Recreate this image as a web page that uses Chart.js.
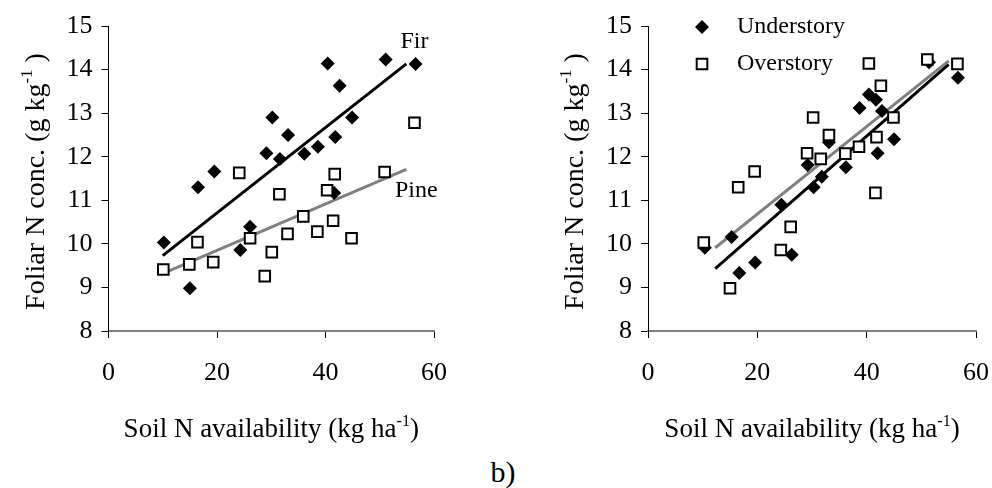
<!DOCTYPE html>
<html>
<head>
<meta charset="utf-8">
<script src="https://cdn.jsdelivr.net/npm/chart.js@4.4.0/dist/chart.umd.min.js"></script>
<style>
  html, body { margin: 0; padding: 0; background: #fff; }
  body { width: 992px; height: 488px; position: relative; overflow: hidden; }
  .panel { position: absolute; top: 0; height: 488px; }
  #left { left: 0; width: 450px; }
  #right { left: 520px; width: 472px; }
  #tag {
    position: absolute; left: 503px; top: 472px;
    transform: translate(-50%, -50%);
    font: 30px 'Liberation Serif', 'Times New Roman', serif;
    color: #000;
  }
</style>
</head>
<body>
<div class="panel" id="left"><canvas id="speciesChart"></canvas></div>
<div class="panel" id="right"><canvas id="storyChart"></canvas></div>
<div id="tag">b)</div>
<script>
// Soil N availability (kg/ha) vs foliar N (g/kg)
const xTicks = [0, 20, 40, 60];
const yTicks = [8, 9, 10, 11, 12, 13, 14, 15];

const firX = [10.2, 15.0, 16.5, 19.5, 24.3, 26.1, 29.1, 30.2, 31.6, 33.1, 36.1, 38.6, 40.4, 41.6, 41.8, 42.6, 44.9, 51.1, 56.6];
const firY = [10.03, 8.98, 11.30, 11.66, 9.86, 10.39, 12.08, 12.90, 11.95, 12.50, 12.07, 12.23, 14.14, 11.17, 12.45, 13.63, 12.90, 14.23, 14.13];

const pineX = [10.1, 14.9, 16.4, 19.3, 24.1, 26.1, 28.8, 30.1, 31.5, 33.0, 35.9, 38.5, 40.3, 41.4, 41.7, 44.8, 50.9, 56.4];
const pineY = [9.41, 9.53, 10.04, 9.58, 11.63, 10.13, 9.26, 9.81, 11.14, 10.23, 10.63, 10.28, 11.23, 10.53, 11.60, 10.13, 11.65, 12.78];

const underX = [10.4, 15.3, 16.7, 19.6, 24.4, 26.3, 29.2, 30.3, 31.8, 33.1, 36.2, 38.7, 40.4, 41.7, 42.0, 42.8, 45.0, 51.4, 56.7];
const underY = [9.91, 10.16, 9.33, 9.57, 10.90, 9.75, 11.81, 11.30, 11.54, 12.33, 11.76, 13.12, 13.43, 13.31, 12.08, 13.05, 12.40, 14.17, 13.81];

const overX = [10.2, 15.0, 16.5, 19.5, 24.3, 26.1, 29.1, 30.2, 31.6, 33.1, 36.1, 38.6, 40.4, 41.6, 41.8, 42.6, 44.9, 51.1, 56.6];
const overY = [10.03, 8.98, 11.30, 11.66, 9.86, 10.39, 12.08, 12.90, 11.95, 12.50, 12.07, 12.23, 14.14, 11.17, 12.45, 13.63, 12.90, 14.23, 14.13];

// fitted trend lines, end points
const firFitX = [10.0, 54.9];
const firFitY = [9.73, 14.13];
const pineFitX = [10.1, 54.9];
const pineFitY = [9.32, 11.71];
const underFitX = [12.3, 55.0];
const underFitY = [9.43, 14.12];
const overFitX = [12.3, 55.0];
const overFitY = [9.91, 14.20];

const SERIF = "'Liberation Serif', 'Times New Roman', serif";
const GREY = '#808080';

const pts = (xs, ys) => xs.map((x, i) => ({ x: x, y: ys[i] }));

const diamond = (label, xs, ys) => ({
  label: label,
  data: pts(xs, ys),
  pointStyle: 'rectRot',
  pointRadius: 7,
  backgroundColor: '#000',
  borderColor: '#000',
  borderWidth: 0
});

const square = (label, xs, ys) => ({
  label: label,
  data: pts(xs, ys),
  pointStyle: 'rect',
  pointRadius: 7.5,
  backgroundColor: '#fff',
  borderColor: '#000',
  borderWidth: 2
});

const fitLine = (xs, ys, color) => ({
  data: pts(xs, ys),
  showLine: true,
  pointRadius: 0,
  borderColor: color,
  borderWidth: 3,
  fill: false
});

// draws text pieces centred on the current origin, "-1" as superscript
function drawTitle(ctx, pieces, size) {
  const supSize = Math.round(size * 0.6);
  const widths = pieces.map(p => {
    ctx.font = (p.sup ? supSize : size) + 'px ' + SERIF;
    return ctx.measureText(p.t).width;
  });
  let x = -widths.reduce((a, b) => a + b, 0) / 2;
  pieces.forEach((p, i) => {
    ctx.font = (p.sup ? supSize : size) + 'px ' + SERIF;
    ctx.fillText(p.t, x, p.sup ? -size * 0.42 : 0);
    x += widths[i];
  });
}

const xTitle = [{ t: 'Soil N availability (kg ha' }, { t: '-1', sup: true }, { t: ')' }];
const yTitle = [{ t: 'Foliar N conc. (g kg' }, { t: '-1', sup: true }, { t: ' )' }];

const axisTitles = {
  id: 'axisTitles',
  afterDraw(chart) {
    const { ctx, chartArea: a } = chart;
    ctx.save();
    ctx.fillStyle = '#000';
    ctx.textAlign = 'left';
    ctx.textBaseline = 'alphabetic';
    ctx.translate((a.left + a.right) / 2, a.bottom + 106);
    drawTitle(ctx, xTitle, 27);
    ctx.restore();

    ctx.save();
    ctx.fillStyle = '#000';
    ctx.textAlign = 'left';
    ctx.textBaseline = 'alphabetic';
    ctx.translate(a.left - 65, (a.top + a.bottom) / 2 + 3);
    ctx.rotate(-Math.PI / 2);
    drawTitle(ctx, yTitle, 28);
    ctx.restore();
  }
};

// text labels placed at data coordinates
const seriesLabels = {
  id: 'seriesLabels',
  afterDraw(chart, args, opts) {
    if (!opts.items) return;
    const { ctx, scales } = chart;
    ctx.save();
    ctx.fillStyle = '#000';
    ctx.font = '24px ' + SERIF;
    ctx.textBaseline = 'middle';
    opts.items.forEach(it => {
      ctx.textAlign = it.align || 'left';
      ctx.fillText(it.text, scales.x.getPixelForValue(it.x), scales.y.getPixelForValue(it.y));
    });
    ctx.restore();
  }
};

// legend with the marker styles of the point datasets
const markerLegend = {
  id: 'markerLegend',
  afterDraw(chart, args, opts) {
    if (!opts.display) return;
    const { ctx, chartArea: a } = chart;
    const sets = chart.data.datasets.filter(d => d.label);
    const order = opts.order || sets.map(d => d.label);
    ctx.save();
    ctx.font = '24px ' + SERIF;
    ctx.textBaseline = 'middle';
    ctx.textAlign = 'left';
    order.forEach((name, i) => {
      const d = sets.find(s => s.label === name);
      const mx = a.left + 54, my = a.top + 1 + i * 37;
      ctx.beginPath();
      if (d.pointStyle === 'rectRot') {
        const r = d.pointRadius;
        ctx.moveTo(mx, my - r); ctx.lineTo(mx + r, my); ctx.lineTo(mx, my + r); ctx.lineTo(mx - r, my);
        ctx.closePath();
        ctx.fillStyle = d.backgroundColor;
        ctx.fill();
      } else {
        const h = d.pointRadius * Math.SQRT1_2;
        ctx.rect(mx - h, my - h, 2 * h, 2 * h);
        ctx.fillStyle = d.backgroundColor;
        ctx.fill();
        ctx.lineWidth = d.borderWidth;
        ctx.strokeStyle = d.borderColor;
        ctx.stroke();
      }
      ctx.fillStyle = '#000';
      ctx.fillText(name, a.left + 89, my);
    });
    ctx.restore();
  }
};

function scales(yWidth) {
  const grid = { drawOnChartArea: false, drawTicks: true, tickLength: 7, color: '#000', lineWidth: 1 };
  return {
    x: {
      type: 'linear',
      min: 0,
      max: 60,
      afterBuildTicks: s => { s.ticks = xTicks.map(v => ({ value: v })); },
      // fixed axis band; end labels may hang past the plot edge
      afterFit: s => { s.height = 157; s.paddingLeft = 0; s.paddingRight = 0; },
      grid: grid,
      border: { color: GREY, width: 2 },
      ticks: { color: '#000', padding: 20, maxRotation: 0, font: { family: SERIF, size: 26 } }
    },
    y: {
      type: 'linear',
      min: 8,
      max: 15,
      afterBuildTicks: s => { s.ticks = yTicks.map(v => ({ value: v })); },
      afterFit: s => { s.width = yWidth; s.paddingTop = 0; s.paddingBottom = 0; },
      grid: grid,
      border: { color: '#000', width: 1 },
      ticks: { color: '#000', padding: 9, font: { family: SERIF, size: 26 } }
    }
  };
}

function baseOptions(yWidth) {
  return {
    responsive: true,
    maintainAspectRatio: false,
    animation: false,
    events: [],
    layout: { autoPadding: false, padding: { left: 0, top: 26, right: 16, bottom: 0 } },
    scales: scales(yWidth),
    plugins: {
      legend: { display: false },
      tooltip: { enabled: false }
    }
  };
}

// Fir vs Pine
const speciesOpts = baseOptions(108.5);
speciesOpts.plugins.seriesLabels = {
  items: [
    { text: 'Fir', x: 56.4, y: 14.64, align: 'center' },
    { text: 'Pine', x: 52.8, y: 11.22, align: 'left' }
  ]
};
const speciesChart = new Chart(document.getElementById('speciesChart'), {
  type: 'scatter',
  data: {
    datasets: [
      square('Pine', pineX, pineY),
      diamond('Fir', firX, firY),
      fitLine(firFitX, firFitY, '#000'),
      fitLine(pineFitX, pineFitY, GREY)
    ]
  },
  options: speciesOpts,
  plugins: [axisTitles, seriesLabels]
});

// Understory vs Overstory
const storyOpts = baseOptions(128);
storyOpts.plugins.markerLegend = { display: true, order: ['Understory', 'Overstory'] };
const storyChart = new Chart(document.getElementById('storyChart'), {
  type: 'scatter',
  data: {
    datasets: [
      square('Overstory', overX, overY),
      diamond('Understory', underX, underY),
      fitLine(overFitX, overFitY, GREY),
      fitLine(underFitX, underFitY, '#000')
    ]
  },
  options: storyOpts,
  plugins: [axisTitles, markerLegend]
});
</script>
</body>
</html>
